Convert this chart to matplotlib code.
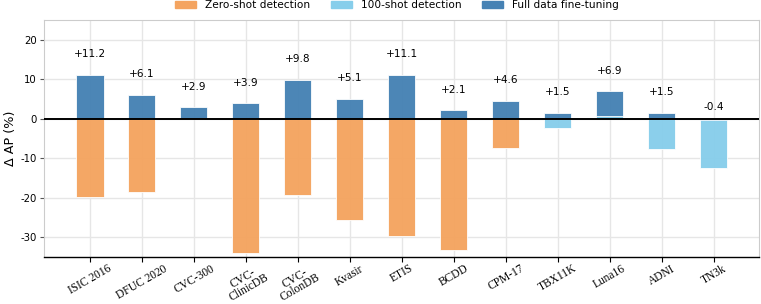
import numpy as np
import matplotlib
matplotlib.use("Agg")
from matplotlib import pyplot as plt
from matplotlib.patches import Patch

plt.rcParams['axes.unicode_minus'] = False

# datasets on the x axis
datasets = ['ISIC 2016', 'DFUC 2020', 'CVC-300', 'CVC-\nClinicDB', 'CVC-\nColonDB',
            'Kvasir', 'ETIS', 'BCDD', 'CPM-17', 'TBX11K', 'Luna16', 'ADNI', 'TN3k']

# delta AP (%) per setting, None = no bar
zero_shot = [-19.8, -18.5, None, -34.0, -19.3, -25.7, -29.8, -33.3, -7.4, None, None, None, None]
few_shot = [None, None, None, None, None, None, None, None, None, -2.4, 0.6, -7.6, -12.4]
full_data = [11.2, 6.1, 2.9, 3.9, 9.8, 5.1, 11.1, 2.1, 4.6, 1.5, 6.9, 1.5, -0.4]

c_zero = '#F4A460'
c_few = '#87CEEB'
c_full = '#4682B4'

fig = plt.figure(figsize=(7.61, 3.04), dpi=100)
ax = fig.add_axes([44 / 761, 47 / 304, 715 / 761, 237 / 304])

x = np.arange(len(datasets))
w = 0.52

# draw each group with the largest bar first, so small ones stay visible
for i in x:
    group = [(zero_shot[i], c_zero), (few_shot[i], c_few), (full_data[i], c_full)]
    group = [g for g in group if g[0] is not None]
    group.sort(key=lambda g: -abs(g[0]))
    for k, (v, c) in enumerate(group):
        ax.bar(i, v, width=w, color=c, edgecolor='white', linewidth=0.6,
               alpha=0.97, zorder=3 + k)

# labels for full data fine-tuning
for i, v in enumerate(full_data):
    ly = v + 4.5 if v > 0 else v + 2.6
    ax.text(i, ly, f'{v:+.1f}', ha='center', va='baseline', fontsize=7.6, zorder=10)

ax.axhline(0, color='black', linewidth=1.4, zorder=8)

ax.set_xlim(-0.885, 12.87)
ax.set_ylim(-35, 25)
ax.set_yticks([-30, -20, -10, 0, 10, 20])
ax.set_xticks(x)
ax.set_xticklabels(datasets, rotation=30, ha='center', fontsize=8.3,
                   family='Liberation Serif', linespacing=0.78)
ax.tick_params(axis='y', labelsize=7.3, length=3, color='#555555', pad=2)
ax.tick_params(axis='x', length=3.5, pad=0.5)
ax.set_ylabel('Δ AP (%)', fontsize=9.2, labelpad=3)

ax.grid(True, color='#e6e6e6', linewidth=1.0, zorder=0)
ax.set_axisbelow(True)
for s in ['left', 'top', 'right']:
    ax.spines[s].set_color('#cccccc')
    ax.spines[s].set_linewidth(0.8)
ax.spines['bottom'].set_color('black')
ax.spines['bottom'].set_linewidth(1.0)

handles = [Patch(color=c_zero, label='Zero-shot detection'),
           Patch(color=c_few, label='100-shot detection'),
           Patch(color=c_full, label='Full data fine-tuning')]
fig.legend(handles=handles, loc='center', ncol=3, frameon=False, fontsize=7.6,
           bbox_to_anchor=(397 / 761, 1 - 5 / 304))

plt.savefig('out.png', dpi=100)
